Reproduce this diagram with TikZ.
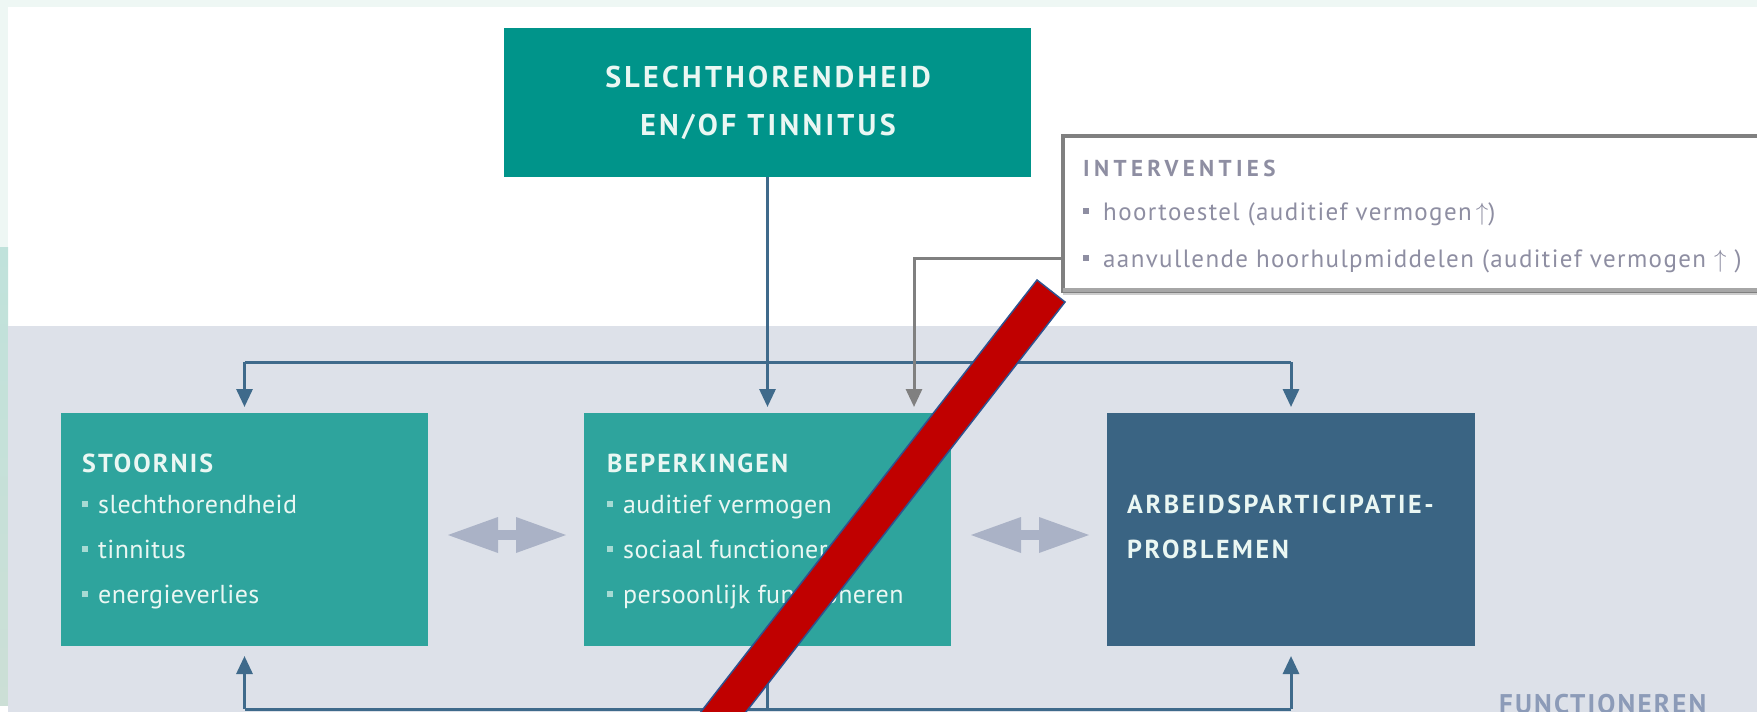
\documentclass[tikz,border=0pt]{standalone}
\usepackage{fontspec}
\setmainfont{PT Sans}
\usetikzlibrary{arrows.meta}
\definecolor{mint}{HTML}{EEF7F4}
\definecolor{stripA}{HTML}{C0E2DB}
\definecolor{stripB}{HTML}{CCDFD6}
\definecolor{band}{HTML}{DDE1E9}
\definecolor{topteal}{HTML}{00948A}
\definecolor{boxteal}{HTML}{2EA49D}
\definecolor{arbblue}{HTML}{3A6483}
\definecolor{connc}{HTML}{3F6A8B}
\definecolor{grayc}{HTML}{808080}
\definecolor{dblc}{HTML}{AAB2C6}
\definecolor{barred}{HTML}{C00000}
\definecolor{barborder}{HTML}{2F528F}
\definecolor{boxtext}{HTML}{EAF7F3}
\definecolor{bulc}{HTML}{A6DAD3}
\definecolor{intext}{HTML}{8E8EA2}
\definecolor{functext}{HTML}{8C9BB8}
\newcommand\bulx[1]{\textcolor{#1}{\rule[6pt]{6pt}{6pt}}\hspace{10pt}}
\tikzset{
  boxnode/.style={anchor=north west, inner sep=0pt, outer sep=0pt},
  txt/.style={anchor=base west, inner sep=0pt, text=boxtext, font=\fontsize{26}{30}\selectfont\addfontfeatures{LetterSpace=1.5}},
  ttl/.style={anchor=base west, inner sep=0pt, text=boxtext, font=\fontsize{26}{30}\selectfont\bfseries\addfontfeatures{LetterSpace=8}},
  conn/.style={draw=connc, line width=3pt},
  gconn/.style={draw=grayc, line width=3pt},
  tipd/.style={-{Triangle[length=18pt,width=16pt]}},
  dblarrow/.style={draw=dblc, line width=10pt,
     {Triangle[length=50pt,width=36pt,line width=0pt]}-{Triangle[length=50pt,width=36pt,line width=0pt]},
     shorten <=20pt, shorten >=18pt}
}
\begin{document}
\begin{tikzpicture}[x=1pt,y=-1pt]
\useasboundingbox (0,0) rectangle (1757,712);
\clip (0,0) rectangle (1757,712);
% background
\fill[white] (0,0) rectangle (1757,712);
\fill[mint] (0,0) rectangle (1757,7);
\fill[mint] (0,0) rectangle (8,247);
\shade[top color=stripA, bottom color=stripB] (0,247) rectangle (8,705);
\fill[band] (8,326) rectangle (1757,712);
% boxes
\node[boxnode, fill=topteal, minimum width=527pt, minimum height=149pt] (top) at (504,28) {};
\node[boxnode, fill=white, draw=grayc, line width=3.5pt, minimum width=720pt, minimum height=155pt] (interv) at (1063,136) {};
\draw[color=black!35, line width=3.5pt] (1063,290) -- (1757,290);
\draw[color=black!20, line width=2pt] (1063,293.5) -- (1757,293.5);
\node[boxnode, fill=boxteal, minimum width=367pt, minimum height=233pt] (stoornis) at (61,413) {};
\node[boxnode, fill=boxteal, minimum width=367pt, minimum height=233pt] (beperk) at (584,413) {};
\node[boxnode, fill=arbblue, minimum width=368pt, minimum height=233pt] (arbeids) at (1107,413) {};
% connectors
\coordinate (topy) at (0,362);
\coordinate (boty) at (0,709);
\coordinate (ij) at (1063,258);
\coordinate (bj) at (914,413);
\draw[conn] (stoornis.north |- topy) -- (arbeids.north |- topy);
\draw[conn, tipd, shorten >=6pt] (stoornis.north |- topy) -- (stoornis.north);
\draw[conn, tipd, shorten >=6pt] (arbeids.north |- topy) -- (arbeids.north);
\draw[conn, tipd, shorten >=6pt] (top.south) -- (beperk.north);
\draw[gconn, tipd, shorten >=6pt] (ij) -| (bj);
\draw[conn] (stoornis.south |- boty) -- (arbeids.south |- boty);
\draw[conn, tipd, shorten >=10pt] (stoornis.south |- boty) -- (stoornis.south);
\draw[conn, tipd, shorten >=10pt] (beperk.south |- boty) -- (beperk.south);
\draw[conn, tipd, shorten >=10pt] (arbeids.south |- boty) -- (arbeids.south);
\draw[dblarrow] ([yshift=-5.5pt]stoornis.east) -- ([yshift=-5.5pt]beperk.west);
\draw[dblarrow] ([yshift=-5.5pt]beperk.east) -- ([yshift=-5.5pt]arbeids.west);
% texts
\node[anchor=base, inner sep=0pt, text=boxtext, font=\fontsize{30}{36}\selectfont\bfseries\addfontfeatures{LetterSpace=11}] (t1) at (768,87) {SLECHTHORENDHEID};
\node[anchor=base, inner sep=0pt, text=boxtext, font=\fontsize{30}{36}\selectfont\bfseries\addfontfeatures{LetterSpace=11}] (t2) at (768,135) {EN/OF TINNITUS};
\node[anchor=base west, inner sep=0pt, text=intext, font=\fontsize{23}{28}\selectfont\bfseries\addfontfeatures{LetterSpace=19}] (i0) at (1083,176) {INTERVENTIES};
\node[anchor=base west, inner sep=0pt, text=intext, font=\fontsize{25}{28}\selectfont\addfontfeatures{LetterSpace=5.5}] (i1) at (1083,220) {\bulx{intext}\hspace{4pt}hoortoestel (auditief vermogen\,$\uparrow$)};
\node[anchor=base west, inner sep=0pt, text=intext, font=\fontsize{25}{28}\selectfont\addfontfeatures{LetterSpace=5.5}] (i2) at (1083,267) {\bulx{intext}\hspace{4pt}aanvullende hoorhulpmiddelen (auditief vermogen $\uparrow$ )};
\node[ttl] (s0) at (82,472) {STOORNIS};
\node[txt] (s1) at (82,513) {\bulx{bulc}slechthorendheid};
\node[txt] (s2) at (82,558) {\bulx{bulc}tinnitus};
\node[txt] (s3) at (82,603) {\bulx{bulc}energieverlies};
\node[ttl] (b0) at (607,472) {BEPERKINGEN};
\node[txt] (b1) at (607,513) {\bulx{bulc}auditief vermogen};
\node[txt] (b2) at (607,558) {\bulx{bulc}sociaal functioneren};
\node[txt] (b3) at (607,603) {\bulx{bulc}persoonlijk functioneren};
\node[ttl, font=\fontsize{26}{30}\selectfont\bfseries\addfontfeatures{LetterSpace=10}] (a1) at (1127,513) {ARBEIDSPARTICIPATIE-};
\node[ttl, font=\fontsize{26}{30}\selectfont\bfseries\addfontfeatures{LetterSpace=10}] (a2) at (1127,558) {PROBLEMEN};
\node[anchor=base west, inner sep=0pt, text=functext, font=\fontsize{27}{30}\selectfont\bfseries\addfontfeatures{LetterSpace=8}] (fn) at (1499,713) {FUNCTIONEREN};
% red bar
\filldraw[fill=barred, draw=barborder, line width=1.5pt] (1037,280) -- (1065,302) -- (700,771) -- (672,749) -- cycle;
\end{tikzpicture}
\end{document}
